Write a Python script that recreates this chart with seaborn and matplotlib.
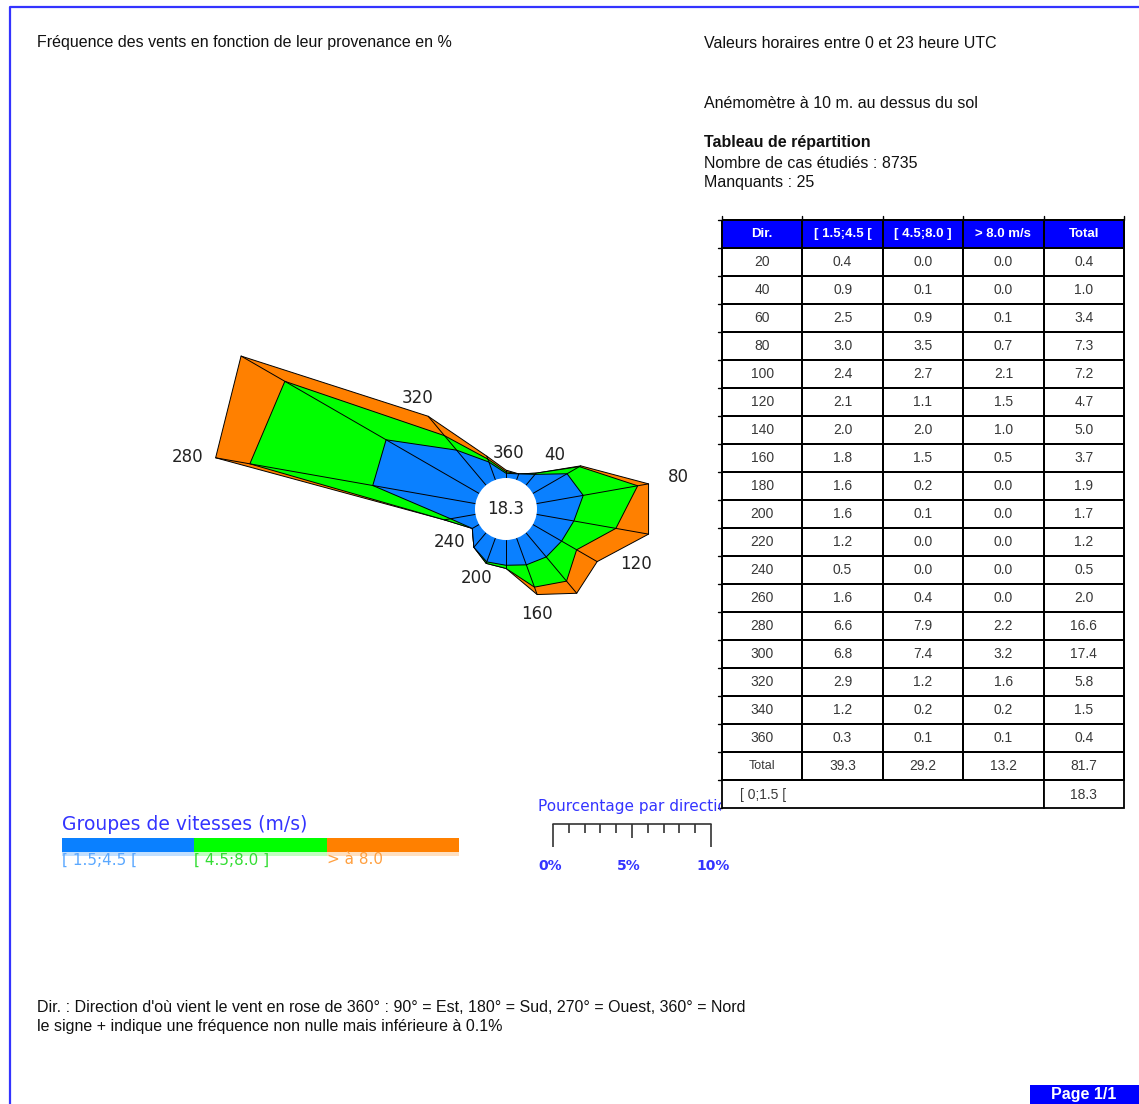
import numpy as np
import matplotlib
matplotlib.use("Agg")
import matplotlib.pyplot as plt
from matplotlib.colors import ListedColormap
from matplotlib.patches import Rectangle, Circle
import seaborn as sns

# ---- data -------------------------------------------------------------
directions = [20, 40, 60, 80, 100, 120, 140, 160, 180,
              200, 220, 240, 260, 280, 300, 320, 340, 360]
speed_low = [0.4, 0.9, 2.5, 3.0, 2.4, 2.1, 2.0, 1.8, 1.6,
             1.6, 1.2, 0.5, 1.6, 6.6, 6.8, 2.9, 1.2, 0.3]
speed_mid = [0.0, 0.1, 0.9, 3.5, 2.7, 1.1, 2.0, 1.5, 0.2,
             0.1, 0.0, 0.0, 0.4, 7.9, 7.4, 1.2, 0.2, 0.1]
speed_high = [0.0, 0.0, 0.1, 0.7, 2.1, 1.5, 1.0, 0.5, 0.0,
              0.0, 0.0, 0.0, 0.0, 2.2, 3.2, 1.6, 0.2, 0.1]
dir_totals = [0.4, 1.0, 3.4, 7.3, 7.2, 4.7, 5.0, 3.7, 1.9,
              1.7, 1.2, 0.5, 2.0, 16.6, 17.4, 5.8, 1.5, 0.4]
class_totals = [39.3, 29.2, 13.2]
grand_total = 81.7
calm_pct = 18.3
calm_label = "[ 0;1.5 ["

header_labels = ["Dir.", "[ 1.5;4.5 [", "[ 4.5;8.0 ]", "> 8.0 m/s", "Total"]
class_labels = ["[ 1.5;4.5 [", "[ 4.5;8.0 ]", "> à 8.0"]
class_colors = ["#0a80ff", "#00ff00", "#ff8000"]
class_text_colors = ["#5aa8ff", "#33dd33", "#ffa040"]
rose_labels = [40, 80, 120, 160, 200, 240, 280, 320, 360]
scale_ticks = [0, 5, 10]

# label placement: pixel offset from the outer vertex of each direction
label_offset = {40: (19, 18), 80: (30, 7), 120: (39, -2), 160: (0, -19),
                200: (-10, -15), 240: (-23, -14), 280: (-28, 1),
                320: (-11, 18), 360: (3, 17)}

# ---- styling ----------------------------------------------------------
sns.set_theme(style="white")
plt.rcParams["font.family"] = ["Liberation Sans", "DejaVu Sans"]
BLUE = "#3434ff"
PAGE_BLUE = "#0000ff"
INK = "#111111"
TXT = 11.5

W, H = 1139, 1104
fig = plt.figure(figsize=(W / 100, H / 100), dpi=100)
fig.patch.set_facecolor("white")

bg = fig.add_axes([0, 0, 1, 1])
bg.set_xlim(0, W)
bg.set_ylim(H, 0)
bg.axis("off")


def px_axes(x0, y0, x1, y1):
    return fig.add_axes([x0 / W, 1 - y1 / H, (x1 - x0) / W, (y1 - y0) / H])


# page frame
bg.plot([10, 10, W], [H, 7, 7], color=BLUE, lw=1.6, solid_capstyle="butt")

# header texts
bg.text(37, 43, "Fréquence des vents en fonction de leur provenance en %",
        fontsize=TXT, va="center", color=INK)
bg.text(704, 43, "Valeurs horaires entre 0 et 23 heure UTC",
        fontsize=TXT, va="center", color=INK)
bg.text(704, 103, "Anémomètre à 10 m. au dessus du sol",
        fontsize=TXT, va="center", color=INK)
bg.text(704, 143, "Tableau de répartition", fontsize=TXT, va="center",
        fontweight="bold", color=INK)
bg.text(704, 163, "Nombre de cas étudiés : 8735", fontsize=TXT, va="center",
        color=INK)
bg.text(704, 183, "Manquants : 25", fontsize=TXT, va="center", color=INK)

# ---- wind rose ----------------------------------------------------------
PX = 15.8            # pixels per percent
cx, cy, half = 506, 509, 340
rose = px_axes(cx - half, cy - half, cx + half, cy + half)
lim = half / PX
rose.set_xlim(-lim, lim)
rose.set_ylim(-lim, lim)
rose.axis("off")

calm_r = 31 / PX
theta = np.deg2rad(directions)
cum1 = np.array(speed_low)
cum2 = cum1 + np.array(speed_mid)
cum3 = cum2 + np.array(speed_high)

for cum, color in zip([cum3, cum2, cum1], class_colors[::-1]):
    r = calm_r + cum
    rose.fill(r * np.sin(theta), r * np.cos(theta), facecolor=color,
              edgecolor="black", lw=0.7, zorder=2)
for t, r in zip(theta, calm_r + cum3):
    rose.plot([calm_r * np.sin(t), r * np.sin(t)],
              [calm_r * np.cos(t), r * np.cos(t)],
              color="black", lw=0.7, zorder=3)
rose.add_patch(Circle((0, 0), calm_r, facecolor="white", edgecolor="none",
                      zorder=4))
rose.text(0, 0, f"{calm_pct:.1f}", ha="center", va="center", fontsize=12,
          family="DejaVu Sans", color="#222222", zorder=5)

for d in rose_labels:
    i = directions.index(d)
    r = calm_r + cum3[i]
    t = np.deg2rad(d)
    ox, oy = label_offset[d]
    rose.text(r * np.sin(t) + ox / PX, r * np.cos(t) + oy / PX, str(d),
              ha="center", va="center", fontsize=12, family="DejaVu Sans",
              color="#222222", zorder=5)

# percentage scale bar (same units as the rose)
sx0 = (553 - cx) / PX
sy0 = (cy - 824) / PX
rose.plot([sx0, sx0 + 10], [sy0, sy0], color="#333333", lw=1.2, clip_on=False)
for p in range(0, 11):
    ln = 23 / PX if p in (0, 10) else (14 / PX if p == 5 else 9 / PX)
    rose.plot([sx0 + p, sx0 + p], [sy0, sy0 - ln], color="#333333", lw=1.2,
              clip_on=False, solid_capstyle="butt")
for p in scale_ticks:
    rose.text(sx0 + p - 15 / PX, sy0 - 42 / PX, f"{p}%", ha="left",
              va="center", fontsize=10, family="DejaVu Sans", color=BLUE,
              fontweight="bold", clip_on=False)

# title of the scale, cut off where the table begins
cap = px_axes(530, 792, 721, 820)
cap.set_xlim(530, 721)
cap.set_ylim(820, 792)
cap.axis("off")
cap.text(538, 806, "Pourcentage par direction", fontsize=11,
         family="DejaVu Sans", color=BLUE, va="center", clip_on=True)

# ---- speed classes legend ---------------------------------------------
bg.text(62, 824, "Groupes de vitesses (m/s)", fontsize=13.5,
        family="DejaVu Sans", color=BLUE, va="center")
seg = (459 - 62) / 3
for k, (lab, col, tcol) in enumerate(zip(class_labels, class_colors,
                                         class_text_colors)):
    x0 = 62 + k * seg
    bg.add_patch(Rectangle((x0, 838), seg, 14, facecolor=col, edgecolor="none"))
    bg.add_patch(Rectangle((x0, 852), seg, 4, facecolor=col, edgecolor="none",
                           alpha=0.25))
    bg.text(x0, 860, lab, fontsize=11, family="DejaVu Sans", color=tcol,
            va="center")

# ---- distribution table -----------------------------------------------
rows = [header_labels]
for d, a, b, c, t in zip(directions, speed_low, speed_mid, speed_high,
                         dir_totals):
    rows.append([str(d), f"{a:.1f}", f"{b:.1f}", f"{c:.1f}", f"{t:.1f}"])
rows.append(["Total"] + [f"{v:.1f}" for v in class_totals]
            + [f"{grand_total:.1f}"])
annot = np.array(rows)
shade = np.zeros(annot.shape)
shade[0, :] = 1

TX0, TX1, TY0, ROW = 722, 1124, 220, 28
n_rows, n_cols = annot.shape
tab = px_axes(TX0, TY0, TX1, TY0 + n_rows * ROW)
sns.heatmap(shade, cmap=ListedColormap(["white", PAGE_BLUE]), vmin=0, vmax=1,
            cbar=False, annot=annot, fmt="", linewidths=1.3,
            linecolor="black", xticklabels=False, yticklabels=False, ax=tab,
            annot_kws={"fontsize": 10})
tab.collections[0].set_clip_on(False)
tab.set_zorder(3)
for k, txt in enumerate(tab.texts):
    if k < n_cols:
        txt.set_fontweight("bold")
        txt.set_fontsize(9.5)
        txt.set_color("white")
    else:
        txt.set_color("#383838")
        if txt.get_text() == "Total":
            txt.set_fontsize(9)

# small overshoots of the grid lines on the left and top edges
col_w = (TX1 - TX0) / n_cols
for k in range(n_rows + 2):
    y = TY0 + k * ROW
    bg.plot([TX0 - 4, TX0], [y, y], color="black", lw=1.0)
for k in range(n_cols + 1):
    x = TX0 + k * col_w
    bg.plot([x, x], [TY0 - 4, TY0], color="black", lw=1.0)

yl = TY0 + n_rows * ROW
xs = TX0 + (n_cols - 1) * col_w
bg.add_patch(Rectangle((TX0, yl), xs - TX0, ROW, facecolor="white",
                       edgecolor="black", lw=1.3, zorder=4))
bg.add_patch(Rectangle((xs, yl), TX1 - xs, ROW, facecolor="white",
                       edgecolor="black", lw=1.3, zorder=4))
bg.text(TX0 + 18, yl + ROW / 2 + 1, calm_label, fontsize=10, color="#383838",
        va="center", zorder=5)
bg.text((xs + TX1) / 2, yl + ROW / 2 + 1, f"{calm_pct:.1f}", fontsize=10,
        color="#383838", va="center", ha="center", zorder=5)

# ---- footnotes ----------------------------------------------------------
bg.text(37, 1007, "Dir. : Direction d'où vient le vent en rose de 360° : "
        "90° = Est, 180° = Sud, 270° = Ouest, 360° = Nord",
        fontsize=TXT, va="center", color=INK)
bg.text(37, 1027, "le signe + indique une fréquence non nulle mais "
        "inférieure à 0.1%", fontsize=TXT, va="center", color=INK)

bg.add_patch(Rectangle((1030, 1085), W - 1030, 19, facecolor=PAGE_BLUE,
                       edgecolor="none"))
bg.text(1084, 1095, "Page 1/1", fontsize=11.5, fontweight="bold",
        color="white", ha="center", va="center")

fig.savefig("out.png", dpi=100)
